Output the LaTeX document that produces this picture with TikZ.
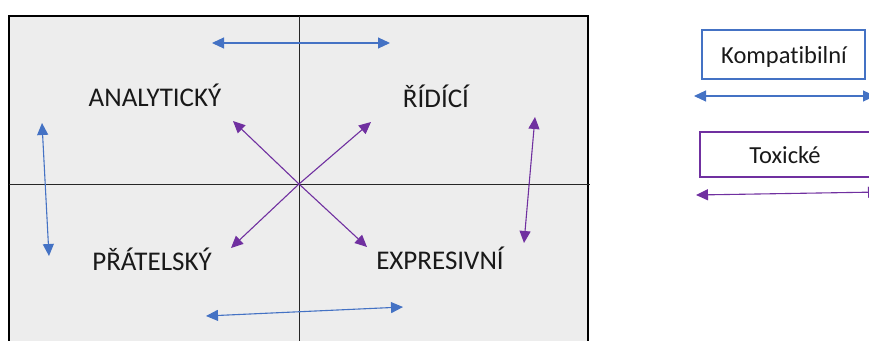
\documentclass[tikz,border=0pt]{standalone}
\usepackage{fontspec}
\setmainfont[Ligatures=NoCommon]{Carlito}
\usetikzlibrary{arrows.meta}
\definecolor{cblue}{HTML}{4472C4}
\definecolor{cpurple}{HTML}{7030A0}
\definecolor{bgfill}{HTML}{EDEDED}
\begin{document}
\begin{tikzpicture}[x=1pt,y=-1pt,
  bluearrow/.style={cblue,line width=1.1pt,{Triangle[length=12pt,width=11pt]}-{Triangle[length=12pt,width=11pt]}},
  purparrow/.style={cpurple,line width=1.1pt,{Triangle[length=12pt,width=11pt]}-{Triangle[length=12pt,width=11pt]}},
  purpone/.style={cpurple,line width=1.1pt,-{Triangle[length=12pt,width=11pt]}},
  lbl/.style={font=\fontsize{27}{31}\selectfont,text=black!90,anchor=base,inner sep=0pt},
  leglbl/.style={font=\fontsize{24.5}{28}\selectfont,text=black!90,anchor=base,inner sep=0pt},
  legbox/.style={line width=2pt,fill=white}]
\useasboundingbox (0,0) rectangle (869,340);
\clip (0,0) rectangle (869,340);
% quadrant panel
\fill[bgfill] (9,16) rectangle (588,350);
\draw[line width=2pt] (9,350) -- (9,16) -- (588,16) -- (588,350);
\draw[line width=0.9pt,black!85] (9,184) -- (590,184);
\draw[line width=0.9pt,black!85] (299,16) -- (299,350);
% labels
\node[lbl] (ana) at (155,106) {ANALYTICKÝ};
\node[lbl] (rid) at (436,107) {ŘÍDÍCÍ};
\node[lbl] (pra) at (152,270) {PŘÁTELSKÝ};
\node[lbl] (exp) at (440,269) {EXPRESIVNÍ};
% coordinates for arrow ends
\coordinate (c) at (299,184);
\coordinate (nw) at (233,121);
\coordinate (ne) at (371,122);
\coordinate (sw) at (231,248);
\coordinate (se) at (367,247);
\coordinate (t1) at (212,43);
\coordinate (t2) at (390,43);
\coordinate (l1) at (42,123);
\coordinate (l2) at (49,256);
\coordinate (b1) at (206,316);
\coordinate (b2) at (403,307);
\coordinate (r1) at (535,117);
\coordinate (r2) at (524,243);
% arrows
\draw[bluearrow] (t1) -- (t2);
\draw[bluearrow] (l1) -- (l2);
\draw[bluearrow] (b1) -- (b2);
\draw[purparrow] (r1) -- (r2);
\draw[purpone] (c) -- (nw);
\draw[purpone] (c) -- (ne);
\draw[purpone] (c) -- (sw);
\draw[purpone] (c) -- (se);
% legend
\draw[legbox,draw=cblue] (702,30) rectangle (865,79);
\node[leglbl] (komp) at (784,63) {Kompatibilní};
\coordinate (k1) at (694,96);
\coordinate (k2) at (875,96);
\draw[bluearrow] (k1) -- (k2);
\draw[legbox,draw=cpurple] (700,132) rectangle (890,177);
\node[leglbl] (tox) at (785,163) {Toxické};
\coordinate (p1) at (696,195);
\coordinate (p2) at (880,192);
\draw[purparrow] (p1) -- (p2);
\end{tikzpicture}
\end{document}
